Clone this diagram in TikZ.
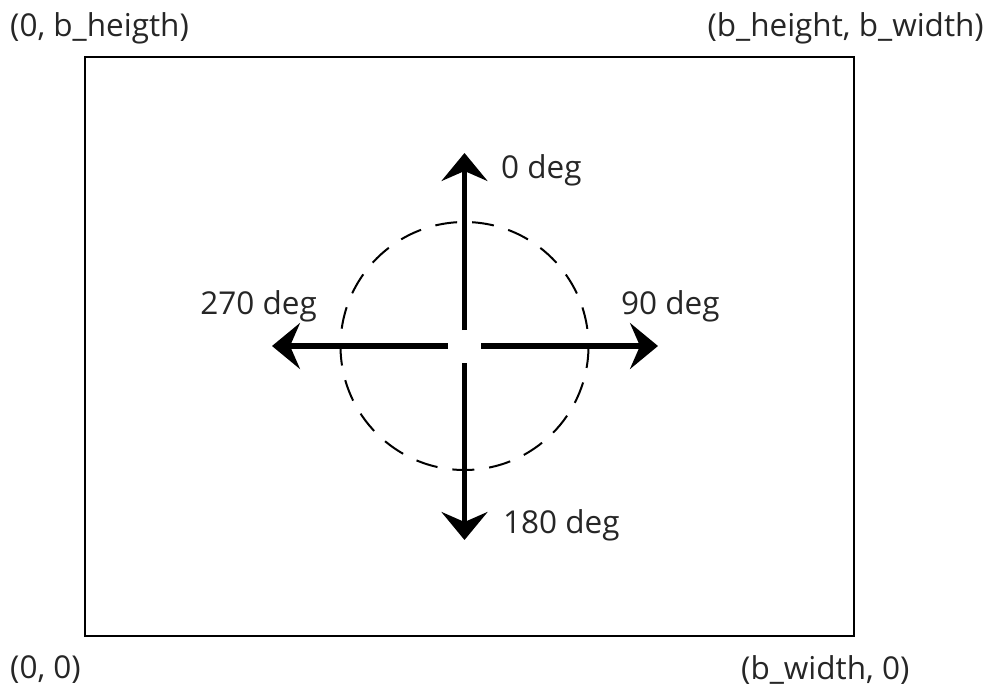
\documentclass[tikz,border=0pt]{standalone}
\usepackage{fontspec}
\setmainfont{Open Sans}
\usetikzlibrary{arrows.meta}
\begin{document}
\begin{tikzpicture}[x=1pt,y=-1pt,
  lbl/.style={font=\fontsize{31.5}{36}\selectfont, text=black!85, inner sep=0pt},
  dirarrow/.style={line width=5.5pt, -{Stealth[length=28pt,width=46pt,inset=10pt]}},
  frame/.style={line width=2.5pt},
  guide/.style={line width=2pt, dash pattern=on 22pt off 15pt}]
\useasboundingbox (0,0) rectangle (991,688);
\draw[frame] (85,57) rectangle (854,636);
% centre and arrow ends
\coordinate (c) at (464.5,346);
\coordinate (upS) at (464.5,330);
\coordinate (upE) at (464.5,153);
\coordinate (dnS) at (464.5,363);
\coordinate (dnE) at (464.5,540);
\coordinate (lfS) at (448,346);
\coordinate (lfE) at (272,346);
\coordinate (rtS) at (481,346);
\coordinate (rtE) at (658,346);
\draw[guide] (c) circle (124);
\draw[dirarrow] (upS) -- (upE);
\draw[dirarrow] (dnS) -- (dnE);
\draw[dirarrow] (lfS) -- (lfE);
\draw[dirarrow] (rtS) -- (rtE);
\node[lbl, anchor=west] (l0) at (501,170) {0 deg};
\node[lbl, anchor=west] (l90) at (621,306) {90 deg};
\node[lbl, anchor=east] (l270) at (317,306) {270 deg};
\node[lbl, anchor=west] (l180) at (503,525) {180 deg};
\node[lbl, anchor=west] (tl) at (10,28) {(0, b\_heigth)};
\node[lbl, anchor=east] (tr) at (984,28) {(b\_height, b\_width)};
\node[lbl, anchor=west] (bl) at (10,670) {(0, 0)};
\node[lbl, anchor=west] (br) at (741,670) {(b\_width, 0)};
\end{tikzpicture}
\end{document}
